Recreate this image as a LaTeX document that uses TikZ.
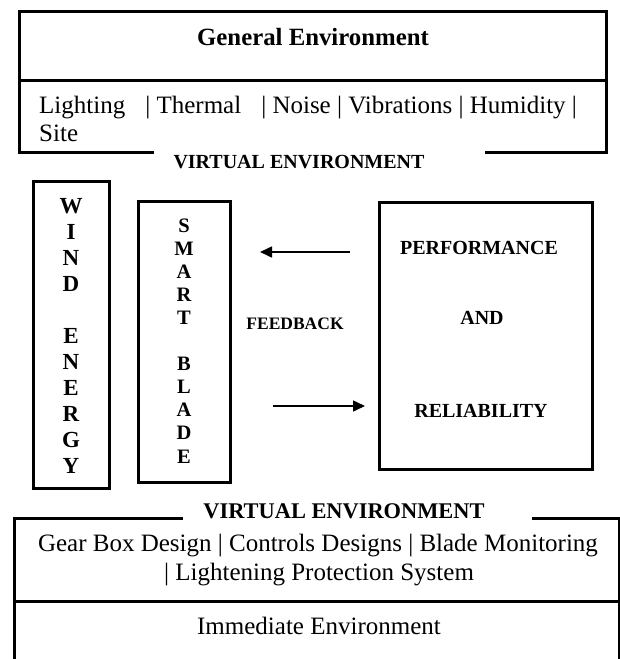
\documentclass[tikz,border=0pt]{standalone}
\usepackage{fontspec}
\setmainfont{Liberation Serif}
\usetikzlibrary{arrows.meta}
\begin{document}
\begin{tikzpicture}[x=1pt,y=-1pt,
  frame/.style={line width=3pt},
  box/.style={draw,line width=3pt,rectangle,inner sep=0pt},
  reg/.style={font=\fontsize{25}{29}\selectfont,inner sep=0pt},
  bold/.style={font=\fontsize{#1}{#1}\selectfont\bfseries,inner sep=0pt},
  letter/.style={font=\fontsize{#1}{#1}\selectfont\bfseries,inner sep=0pt,anchor=base},
  arr/.style={line width=1.5pt,-{Triangle[length=12pt,width=11pt]}}]
\useasboundingbox (0,0) rectangle (620,659);

% top frame
\draw[frame] (154,152) -- (19,152) -- (19,11) -- (606,11) -- (606,152) -- (485,152);
\draw[frame] (19,80) -- (606,80);
\node[bold=24.8,anchor=base] (gen) at (313,45) {General Environment};
\node[reg,anchor=base west] (light) at (39,113) {Lighting\hspace{20pt}| Thermal\hspace{20pt}| Noise | Vibrations | Humidity |};
\node[reg,anchor=base west] (site) at (39,141) {Site};
\node[bold=20,anchor=base] (virt1) at (299,168) {VIRTUAL ENVIRONMENT};

% wind energy
\node[box,minimum width=76pt,minimum height=307pt] (wind) at (71,334.5) {};
\foreach \l/\k in {W/0,I/1,N/2,D/3,E/5,N/6,E/7,R/8,G/9,Y/10}
  \node[letter=23] (w\k) at (71,213+26*\k) {\l};

% smart blade
\node[box,minimum width=92pt,minimum height=281pt] (smart) at (184,341.5) {};
\foreach \l/\k in {S/0,M/1,A/2,R/3,T/4,B/6,L/7,A/8,D/9,E/10}
  \node[letter=20.5] (s\k) at (184,232+23.1*\k) {\l};

% performance and reliability
\node[box,minimum width=213pt,minimum height=267pt] (perf) at (485.5,335.5) {};
\node[bold=20,anchor=base] (p1) at (479,254) {PERFORMANCE};
\node[bold=20,anchor=base] (p2) at (482,324) {AND};
\node[bold=20,anchor=base] (p3) at (481,417) {RELIABILITY};

% feedback
\node[bold=17.5,anchor=base] (fb) at (295,329) {FEEDBACK};
\coordinate (a1s) at (350,252);
\coordinate (a1e) at (260,252);
\coordinate (a2s) at (273,406);
\coordinate (a2e) at (365,406);
\draw[arr] (a1s) -- (a1e);
\draw[arr] (a2s) -- (a2e);

% bottom frame
\draw[frame] (183,518) -- (14,518) -- (14,665);
\draw[frame] (532,518) -- (619,518) -- (619,665);
\draw[frame] (14,601) -- (619,601);
\node[bold=22.4,anchor=base] (virt2) at (344,518) {VIRTUAL ENVIRONMENT};
\node[reg,anchor=base] (gear1) at (318,551) {Gear Box Design | Controls Designs | Blade Monitoring};
\node[reg,anchor=base] (gear2) at (319,580) {| Lightening Protection System};
\node[reg,anchor=base] (imm) at (319,634) {Immediate Environment};
\end{tikzpicture}
\end{document}
